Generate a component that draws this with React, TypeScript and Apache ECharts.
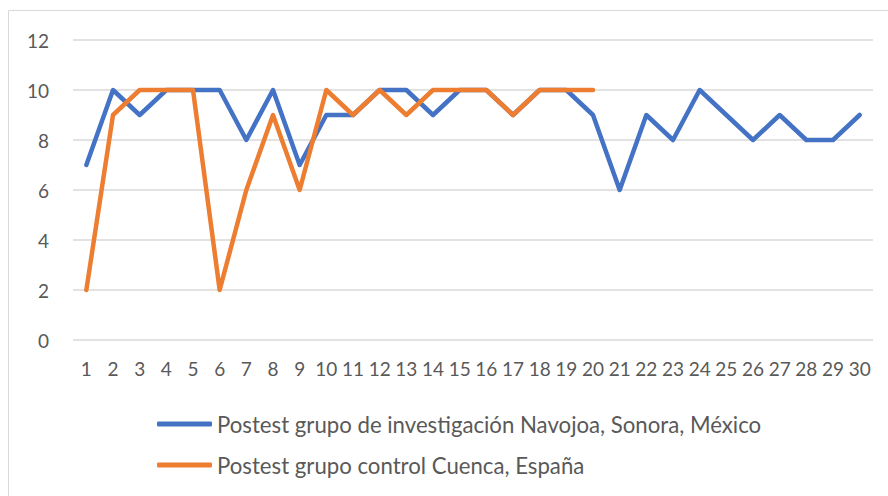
import React, { useEffect, useRef } from "react";
import * as echarts from "echarts";

const categories = Array.from({ length: 30 }, (_, i) => String(i + 1));
const seriesNames = [
  "Postest grupo de investigación Navojoa, Sonora, México",
  "Postest grupo control Cuenca, España",
];
const mexicoValues = [7, 10, 9, 10, 10, 10, 8, 10, 7, 9, 9, 10, 10, 9, 10, 10, 9, 10, 10, 9, 6, 9, 8, 10, 9, 8, 9, 8, 8, 9];
const espanaValues = [2, 9, 10, 10, 10, 2, 6, 9, 6, 10, 9, 10, 9, 10, 10, 10, 9, 10, 10, 10];

const FONT = "Lato, 'Open Sans', sans-serif";

export default function App() {
  const ref = useRef<HTMLDivElement>(null);
  useEffect(() => {
    if (!ref.current) return;
    const chart = echarts.init(ref.current, undefined, { renderer: "svg" });
    chart.setOption({
      animation: false,
      backgroundColor: "#ffffff",
      graphic: [
        {
          type: "rect",
          shape: { x: 8.5, y: 10.5, width: 900, height: 500 },
          style: { fill: "none", stroke: "#d9d9d9", lineWidth: 1 },
          silent: true,
        },
      ],
      grid: { left: 73, right: 15, top: 40, bottom: 156, containLabel: false },
      xAxis: {
        type: "category",
        data: categories,
        boundaryGap: true,
        axisLine: { show: false },
        axisTick: { show: false },
        axisLabel: { interval: 0, color: "#595959", fontSize: 19, fontFamily: FONT, margin: 19 },
        splitLine: { show: false },
      },
      yAxis: {
        type: "value",
        min: 0,
        max: 12,
        interval: 2,
        axisLine: { show: false },
        axisTick: { show: false },
        axisLabel: { color: "#595959", fontSize: 19, fontFamily: FONT, margin: 24 },
        splitLine: { lineStyle: { color: "#d9d9d9", width: 1.5 } },
      },
      legend: {
        orient: "vertical",
        left: 152,
        top: 408,
        itemWidth: 55,
        itemHeight: 5,
        itemGap: 19,
        textStyle: { color: "#595959", fontSize: 22.2, fontFamily: FONT },
        data: seriesNames.map((n) => ({ name: n, icon: "roundRect" })),
      },
      series: [
        {
          name: seriesNames[0],
          type: "line",
          data: mexicoValues,
          symbol: "none",
          color: "#4472C4",
          lineStyle: { width: 4.5, color: "#4472C4", cap: "round", join: "round" },
        },
        {
          name: seriesNames[1],
          type: "line",
          data: espanaValues,
          symbol: "none",
          color: "#ED7D31",
          lineStyle: { width: 4.5, color: "#ED7D31", cap: "round", join: "round" },
        },
      ],
    });
    return () => chart.dispose();
  }, []);
  return (
    <div
      ref={ref}
      style={{ position: "fixed", left: 0, top: 0, width: 888, height: 496, background: "#fff" }}
    />
  );
}
